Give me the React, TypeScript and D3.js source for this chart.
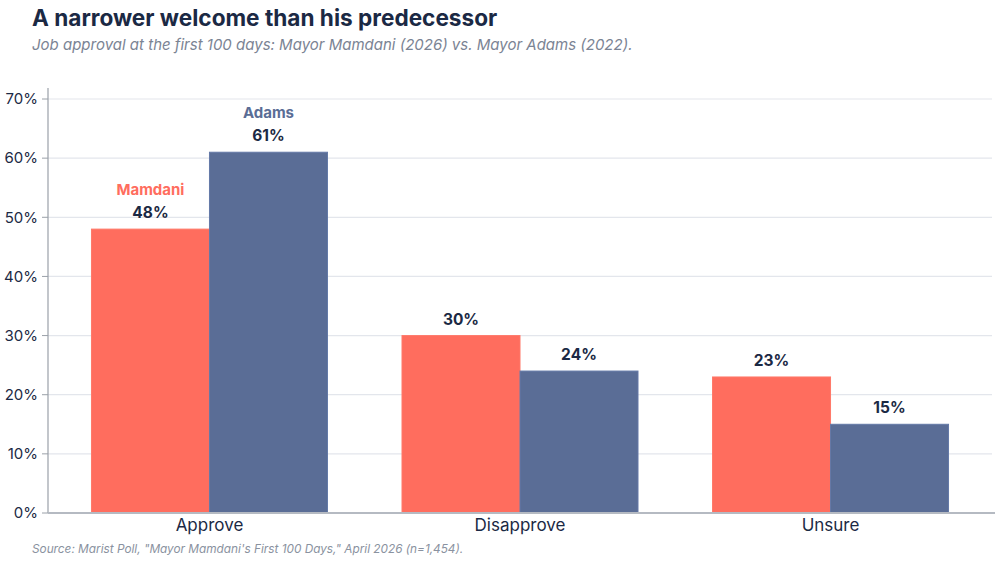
import * as d3 from "d3";

const categories = ["Approve", "Disapprove", "Unsure"];
const seriesNames = ["Mamdani", "Adams"];
const mamdaniValues = [48, 30, 23];
const adamsValues = [61, 24, 15];
const yTicks = [0, 10, 20, 30, 40, 50, 60, 70];

const colors: Record<string, string> = {
  Mamdani: "#ff6d5e",
  Adams: "#5a6d96",
};

const navy = "#1b2944";
const font = "Inter, 'Noto Sans', sans-serif";

export default function App() {
  const width = 1000;
  const height = 574;
  const marginLeft = 48;
  const marginRight = 8;
  const marginTop = 99;
  const marginBottom = 61;

  const values: Record<string, number[]> = {
    Mamdani: mamdaniValues,
    Adams: adamsValues,
  };

  const x = d3
    .scaleBand()
    .domain(categories)
    .range([marginLeft, width - marginRight])
    .paddingInner(0.24)
    .paddingOuter(0.14);

  const xs = d3.scaleBand().domain(seriesNames).range([0, x.bandwidth()]);

  const y = d3
    .scaleLinear()
    .domain([0, 70])
    .range([height - marginBottom, marginTop]);

  return (
    <svg
      width={width}
      height={height}
      style={{ position: "absolute", left: 0, top: 0, background: "#fff" }}
      fontFamily={font}
    >
      <text x={32} y={26} fontSize={22.6} fontWeight={700} fill={navy}>
        A narrower welcome than his predecessor
      </text>
      <text x={32} y={50} fontSize={15} fontStyle="italic" fill="#7b8494">
        Job approval at the first 100 days: Mayor Mamdani (2026) vs. Mayor Adams (2022).
      </text>

      {/* gridlines + y ticks */}
      {yTicks.map((t) => (
        <g key={t}>
          {t > 0 && (
            <line
              x1={marginLeft}
              x2={992}
              y1={y(t)}
              y2={y(t)}
              stroke="#e3e6ec"
              strokeWidth={1.2}
            />
          )}
          <line x1={42} x2={marginLeft} y1={y(t)} y2={y(t)} stroke="#9aa0a8" />
          <text
            x={38}
            y={y(t)}
            dy="0.35em"
            textAnchor="end"
            fontSize={15}
            fill={navy}
          >
            {t}%
          </text>
        </g>
      ))}

      {/* bars */}
      {categories.map((c, i) => (
        <g key={c} transform={`translate(${x(c)},0)`}>
          {seriesNames.map((s) => {
            const v = values[s][i];
            const bx = xs(s)!;
            const cx = bx + xs.bandwidth() / 2;
            return (
              <g key={s}>
                <rect
                  x={bx}
                  y={y(v)}
                  width={xs.bandwidth()}
                  height={y(0) - y(v)}
                  fill={colors[s]}
                  stroke={d3.color(colors[s])!.brighter(0.3).toString()}
                  strokeWidth={1}
                />
                <text
                  x={cx}
                  y={y(v) - 11}
                  textAnchor="middle"
                  fontSize={15.5}
                  fontWeight={700}
                  fill={navy}
                >
                  {v}%
                </text>
                {i === 0 && (
                  <text
                    x={cx}
                    y={y(v) - 34}
                    textAnchor="middle"
                    fontSize={15}
                    fontWeight={700}
                    fill={colors[s]}
                  >
                    {s}
                  </text>
                )}
              </g>
            );
          })}
          <text
            x={x.bandwidth() / 2}
            y={y(0) + 18}
            textAnchor="middle"
            fontSize={17}
            fill={navy}
          >
            {c}
          </text>
        </g>
      ))}

      {/* axes */}
      <line
        x1={marginLeft}
        x2={marginLeft}
        y1={88}
        y2={y(0)}
        stroke="#9aa0a8"
        strokeWidth={1.2}
      />
      <line
        x1={marginLeft}
        x2={995}
        y1={y(0)}
        y2={y(0)}
        stroke="#b5bac2"
        strokeWidth={2}
      />

      <text x={32} y={553} fontSize={11.8} fontStyle="italic" fill="#8a92a0">
        Source: Marist Poll, "Mayor Mamdani's First 100 Days," April 2026 (n=1,454).
      </text>
    </svg>
  );
}
